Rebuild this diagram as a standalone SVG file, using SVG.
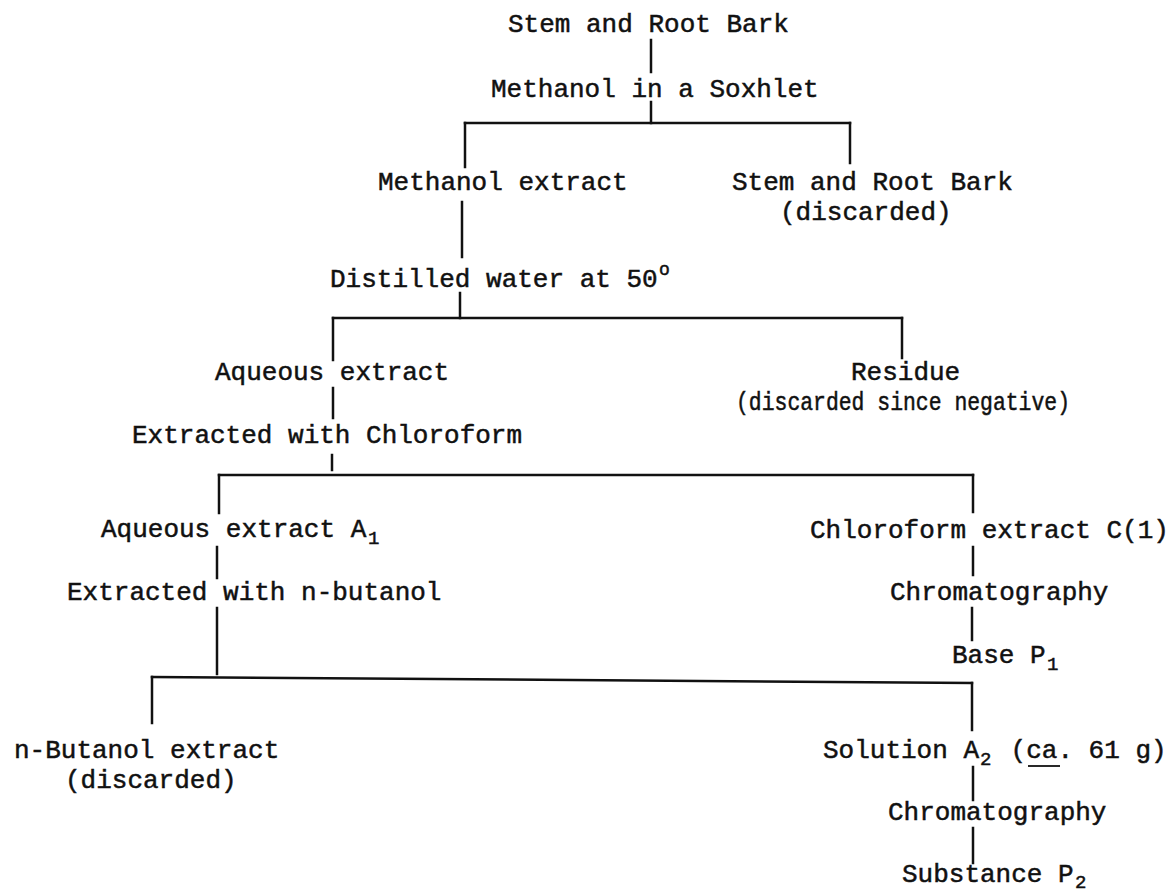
<svg xmlns="http://www.w3.org/2000/svg" width="1175" height="892" viewBox="0 0 1175 892">
<style>
text{font-family:"Liberation Mono","Courier New",monospace;font-size:26px;fill:#111;stroke:#111;stroke-width:0.5px}
.sub{font-size:19px}
.sup{font-size:18px}
#connectors line{stroke:#111;stroke-width:2.5;stroke-linecap:square}
.ul{stroke:#111;stroke-width:1.8}
</style>
<rect width="1175" height="892" fill="#fff"/>
<g id="connectors">
<line x1="651" y1="40" x2="651" y2="72"/>
<line x1="651" y1="102" x2="651" y2="123"/>
<line x1="465" y1="123" x2="850" y2="123"/>
<line x1="465" y1="123" x2="465" y2="167"/>
<line x1="850" y1="123" x2="850" y2="163"/>
<line x1="462" y1="202" x2="462" y2="257"/>
<line x1="460" y1="293" x2="460" y2="318"/>
<line x1="333" y1="318" x2="902" y2="318"/>
<line x1="333" y1="318" x2="333" y2="360"/>
<line x1="902" y1="318" x2="902" y2="358"/>
<line x1="333" y1="388" x2="333" y2="418"/>
<line x1="332" y1="455" x2="332" y2="470"/>
<line x1="219" y1="475" x2="973" y2="475"/>
<line x1="219" y1="475" x2="219" y2="513"/>
<line x1="973" y1="475" x2="973" y2="512"/>
<line x1="217" y1="547" x2="217" y2="578"/>
<line x1="973" y1="547" x2="973" y2="575"/>
<line x1="217" y1="608" x2="217" y2="674"/>
<line x1="972" y1="608" x2="972" y2="640"/>
<line x1="152" y1="677" x2="972" y2="683"/>
<line x1="152" y1="677" x2="152" y2="723"/>
<line x1="972" y1="683" x2="972" y2="730"/>
<line x1="973" y1="767" x2="973" y2="800"/>
<line x1="973" y1="828" x2="973" y2="863"/>
</g>
<g id="n-bark"><text x="508" y="32">Stem and Root Bark</text></g>
<g id="n-soxhlet"><text x="491" y="97">Methanol in a Soxhlet</text></g>
<g id="n-methanol-extract"><text x="378" y="190">Methanol extract</text></g>
<g id="n-bark-discarded"><text x="732" y="190">Stem and Root Bark</text><text x="780" y="220">(discarded)</text></g>
<g id="n-water"><text x="330" y="287">Distilled water at 50<tspan class="sup" x="659" y="275">o</tspan></text></g>
<g id="n-aqueous"><text x="215" y="380">Aqueous extract</text></g>
<g id="n-residue"><text x="851" y="380">Residue</text><text x="736" y="410" textLength="334" lengthAdjust="spacingAndGlyphs">(discarded since negative)</text></g>
<g id="n-chloroform-step"><text x="132" y="443">Extracted with Chloroform</text></g>
<g id="n-aqueous-a1"><text x="101" y="537">Aqueous extract A<tspan class="sub" x="368" y="544">1</tspan></text></g>
<g id="n-chloroform-c1"><text x="810" y="538">Chloroform extract C(1)</text></g>
<g id="n-butanol-step"><text x="67" y="600">Extracted with n-butanol</text></g>
<g id="n-chrom1"><text x="890" y="600">Chromatography</text></g>
<g id="n-base-p1"><text x="952" y="663">Base P<tspan class="sub" x="1047" y="670">1</tspan></text></g>
<g id="n-butanol-extract"><text x="14" y="758">n-Butanol extract</text><text x="65" y="788">(discarded)</text></g>
<g id="n-solution-a2"><text x="823" y="758">Solution A<tspan class="sub" x="980" y="765">2</tspan><tspan x="995" y="758"> (ca. 61 g)</tspan></text><line class="ul" x1="1028" y1="766" x2="1060" y2="766"/></g>
<g id="n-chrom2"><text x="888" y="820">Chromatography</text></g>
<g id="n-substance-p2"><text x="902" y="882">Substance P<tspan class="sub" x="1075" y="888">2</tspan></text></g>
</svg>
